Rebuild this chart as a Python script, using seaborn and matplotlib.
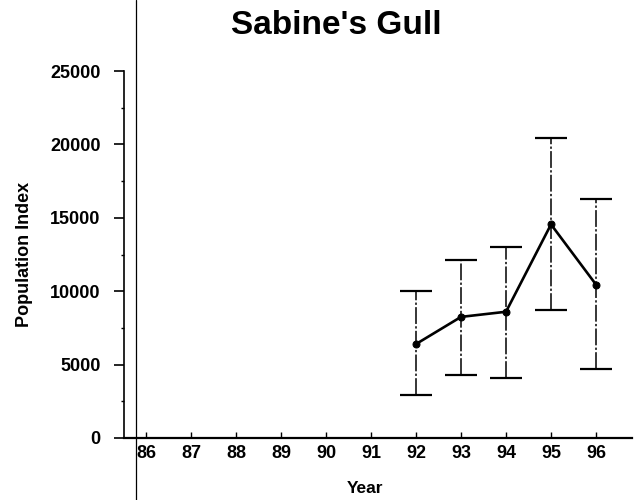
import matplotlib
matplotlib.use("Agg")
import matplotlib.pyplot as plt
from matplotlib.lines import Line2D
from matplotlib.ticker import MultipleLocator
import seaborn as sns
import pandas as pd

# Survey years shown on the axis (two-digit)
years_axis = [86, 87, 88, 89, 90, 91, 92, 93, 94, 95, 96]

# Years with a population estimate and their confidence limits
years = [92, 93, 94, 95, 96]
index = [6400, 8250, 8600, 14550, 10450]
lower = [2900, 4300, 4100, 8700, 4700]
upper = [10000, 12100, 13000, 20450, 16250]

df = pd.DataFrame({"Year": years, "Index": index, "Lower": lower, "Upper": upper})

sns.set_style("ticks")
plt.rcParams["font.family"] = ["Liberation Sans", "DejaVu Sans"]
plt.rcParams["font.weight"] = "bold"
for key in ("text.color", "axes.labelcolor", "xtick.color", "ytick.color",
            "axes.edgecolor"):
    plt.rcParams[key] = "black"

fig = plt.figure(figsize=(6.4, 5.0), dpi=100)
ax = fig.add_axes([124 / 640, 62 / 500, 508 / 640, 367 / 500])

# Confidence interval bars
err = ax.errorbar(
    df["Year"], df["Index"],
    yerr=[df["Index"] - df["Lower"], df["Upper"] - df["Index"]],
    fmt="none", ecolor="black", elinewidth=1.1, capsize=11.5, capthick=1.6,
    zorder=2,
)
for col in err[2]:
    col.set_linestyle((0, (11, 1.5, 1.5, 1.5)))

# Population index trend
sns.lineplot(data=df, x="Year", y="Index", ax=ax, color="black", linewidth=1.9,
             marker="o", markersize=5, markeredgecolor="black", zorder=3)

ax.set_xlim(85.51, 96.8)
ax.set_ylim(0, 25000)
ax.set_xticks(years_axis)
ax.set_xticklabels([str(y) for y in years_axis])
ax.yaxis.set_major_locator(MultipleLocator(5000))
ax.yaxis.set_minor_locator(MultipleLocator(2500))

ax.tick_params(axis="x", direction="in", length=4, width=1, pad=5,
               labelsize=13, colors="black")
ax.tick_params(axis="y", which="major", direction="out", length=7, width=1.2,
               pad=10, labelsize=13, colors="black")
ax.tick_params(axis="y", which="minor", direction="out", length=2, width=1,
               colors="black")
for lab in ax.get_xticklabels() + ax.get_yticklabels():
    lab.set_fontweight("bold")

sns.despine(ax=ax)
ax.spines["left"].set_linewidth(1.2)
ax.spines["bottom"].set_linewidth(1.6)
ax.spines["left"].set_color("black")
ax.spines["bottom"].set_color("black")

ax.set_xlabel("Year", fontsize=12.5, fontweight="bold", color="black")
ax.set_ylabel("Population Index", fontsize=13, fontweight="bold", color="black")
ax.xaxis.set_label_coords((365 - 124) / 508, (438 - 481) / 367)
ax.yaxis.set_label_coords((33 - 124) / 508, 0.5)

ax.set_title("Sabine's Gull", fontsize=24, fontweight="bold", color="black",
             x=(336 - 124) / 508, pad=27)

# Page rule running down the sheet
fig.add_artist(Line2D([136 / 640, 136 / 640], [0, 1], transform=fig.transFigure,
                      color="black", linewidth=0.9))

fig.savefig("out.png", dpi=100, facecolor="white")
